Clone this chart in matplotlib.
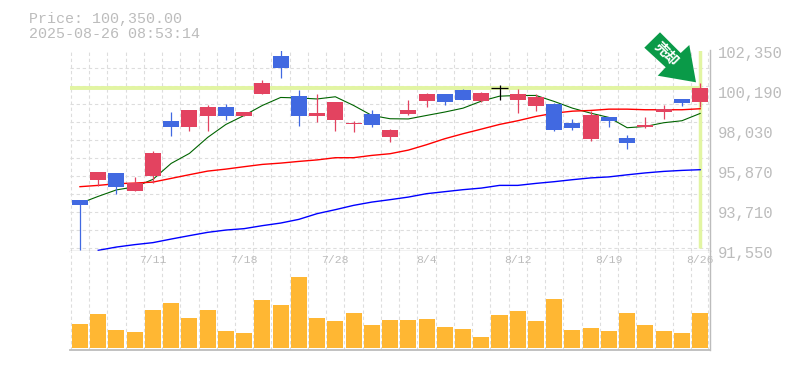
import matplotlib
matplotlib.use('Agg')
import matplotlib.pyplot as plt
from matplotlib.patches import Polygon
from matplotlib.transforms import ScaledTranslation
import numpy as np

plt.rcParams['font.family'] = ['Liberation Mono', 'Noto Sans CJK JP', 'DejaVu Sans']

opens = [94250, 95330, 95708, 94736, 95562, 98516, 98192, 98786, 99272, 98786,
         99974, 102026, 99866, 98786, 98570, 98354, 98894, 97652, 98894, 99596,
         99974, 100190, 99596, 100298, 99650, 99326, 99434, 98408, 97544, 98732,
         97598, 98192, 99002, 99704, 99542]
highs = [94250, 95762, 95708, 95492, 96896, 99002, 99110, 99380, 99434, 99002,
         100730, 102350, 100190, 99974, 99542, 98516, 99110, 98084, 99650, 100028,
         99974, 100244, 100082, 100460, 100244, 99974, 99488, 98624, 99056, 98732,
         97760, 98732, 99380, 99704, 100568]
lows = [91550, 95020, 94574, 94736, 95184, 97706, 97976, 97976, 98570, 98786,
        99974, 100838, 98246, 98462, 97976, 97922, 98192, 97382, 98840, 99272,
        99380, 99650, 99542, 99650, 98948, 99056, 97976, 98030, 97436, 98192,
        97004, 98138, 98624, 99326, 99272]
closes = [93980, 95762, 94952, 95168, 96788, 98192, 99110, 99272, 98786, 99002,
          100568, 101378, 98786, 98948, 99542, 98408, 98300, 98030, 99110, 99974,
          99542, 99650, 100028, 100298, 99974, 99812, 98030, 98138, 98840, 98516,
          97328, 98300, 99164, 99488, 100350]

ma_short = [94088, 94466, 94817, 94979, 95384, 96248, 96788, 97652, 98354, 98840,
            99380, 99812, 99785, 99731, 99850, 99380, 98840, 98662, 98651, 98840,
            99024, 99234, 99612, 99882, 99920, 99920, 99596, 99234, 98964, 98732,
            98176, 98246, 98446, 98554, 98948]
ma_mid = [94990, 95060, 95152, 95184, 95238, 95438, 95638, 95832, 95940, 96070,
          96194, 96264, 96356, 96437, 96556, 96556, 96680, 96772, 96966, 97258,
          97582, 97852, 98100, 98354, 98554, 98786, 98964, 99072, 99110, 99180,
          99180, 99148, 99148, 99148, 99202]
ma_long = [np.nan, 91550, 91728, 91858, 91966, 92160, 92344, 92522, 92646, 92722,
           92884, 93024, 93224, 93532, 93748, 93980, 94158, 94288, 94428, 94612,
           94720, 94828, 94914, 95060, 95060, 95168, 95260, 95368, 95465, 95519,
           95632, 95735, 95816, 95870, 95908]

volumes = [24, 34, 18, 16, 38, 45, 30, 38, 17, 15, 48, 43, 71, 30, 27, 35, 23, 28,
           28, 29, 21, 19, 11, 33, 37, 27, 49, 18, 20, 17, 35, 23, 17, 15, 35]

price_ticks = [91550, 93710, 95870, 98030, 100190, 102350]
date_pos = [4, 9, 14, 19, 24, 29, 34]
date_labels = ['7/11', '7/18', '7/28', '8/4', '8/12', '8/19', '8/26']
last_price = 100350

W, H = 785, 370
GREY = '#bcbcbc'
GRID = '#dddddd'
UP = '#e34360'
DOWN = '#4169e1'


def px(x, y):
    # pixel position in the image -> figure fraction
    return x / W, 1 - y / H


fig = plt.figure(figsize=(W / 100, H / 100), dpi=100)
ax = fig.add_axes([70.3 / W, 1 - 250.5 / H, 639.7 / W, 200 / H])
vol = fig.add_axes([70.3 / W, 1 - 350 / H, 639.7 / W, 99.5 / H])

x = np.arange(len(opens))
grid_x = np.append(x - 0.5, 34.45)

for a in (ax, vol):
    a.set_xlim(-0.53, 34.54)
    a.set_xticks(grid_x, minor=True)
    a.grid(which='minor', axis='x', color=GRID, lw=0.8, dashes=(3, 2.5))
    a.tick_params(which='both', length=0)
    a.set_axisbelow(True)
    for s in a.spines.values():
        s.set_visible(False)
    a.spines['right'].set_visible(True)
    a.spines['right'].set_color(GREY)
    a.spines['right'].set_linewidth(1.0)

# price pane
ax.set_ylim(91541, 102350)
ax.set_yticks(price_ticks)
ax.set_yticklabels([f'{p:,}' for p in price_ticks], fontsize=11.2, color=GREY)
ax.yaxis.tick_right()
ax.tick_params(axis='y', which='both', length=0, pad=5.5)
shift = ScaledTranslation(0, -2 / 100, fig.dpi_scale_trans)
for t in ax.get_yticklabels():
    t.set_transform(t.get_transform() + shift)
ax.set_xticks([])
ax.set_yticks(np.arange(102350, 91000, -972), minor=True)
ax.grid(which='minor', axis='y', color=GRID, lw=0.8, dashes=(3, 2.5))
ax.spines['bottom'].set_visible(True)
ax.spines['bottom'].set_color(GREY)
ax.spines['bottom'].set_linewidth(1.0)

# last price cross hair
ax.hlines(last_price, -0.53, 34, color='#e2f5a2', lw=2.8, zorder=1.5)
ax.vlines(34, 91650, 102350, color='#e2f5a2', lw=2.5, zorder=1.5)

ax.plot(x, ma_short, color='#006400', lw=0.8, zorder=2)
ax.plot(x, ma_mid, color='#ff0000', lw=1.0, zorder=2)
ax.plot(x, ma_long, color='#0000ff', lw=1.0, zorder=2)

for i in x:
    o, h, l, c = opens[i], highs[i], lows[i], closes[i]
    if c > o:
        col = UP
    elif c < o:
        col = DOWN
    else:
        col = 'black'
    ax.vlines(i, l, h, color=col, lw=0.9, zorder=3)
    if c == o:
        ax.hlines(c, i - 0.44, i + 0.44, color=col, lw=0.9, zorder=3)
    else:
        ax.bar(i, abs(c - o), bottom=min(o, c), width=0.88, color=col, zorder=3)

# volume pane
vol.bar(x, volumes, width=0.88, color='#ffb733', zorder=3)
vol.set_ylim(-2, 97.5)
vol.set_yticks([])
vol.set_xticks([])
for pos, lab in zip(date_pos, date_labels):
    vol.text(pos, 0.905, lab, transform=vol.get_xaxis_transform(), fontsize=8.2,
             color='#bcbcbc', ha='center', va='center', clip_on=False, zorder=5)
vol.spines['bottom'].set_visible(True)
vol.spines['bottom'].set_color(GREY)
vol.spines['bottom'].set_linewidth(1.3)

# header
fig.text(*px(29, 22.7), 'Price: 100,350.00', fontsize=10.8, color=GREY, va='baseline')
fig.text(*px(29, 38), '2025-08-26 08:53:14', fontsize=10.8, color=GREY, va='baseline')

# arrow badge
arrow = [(644.3, 47.7), (660, 32.3), (680.7, 53), (689.3, 45), (696, 82.3),
         (657.7, 75.7), (665.7, 67.3)]
fig.add_artist(Polygon([px(*p) for p in arrow], closed=True, color='#0a9a48',
                       lw=0, transform=fig.transFigure, zorder=6))
fig.text(*px(666.5, 54.5), '売却', fontsize=10, color='white', fontweight='bold',
         rotation=-45, ha='center', va='center', zorder=7)

fig.savefig('out.png', dpi=100, facecolor='white')
